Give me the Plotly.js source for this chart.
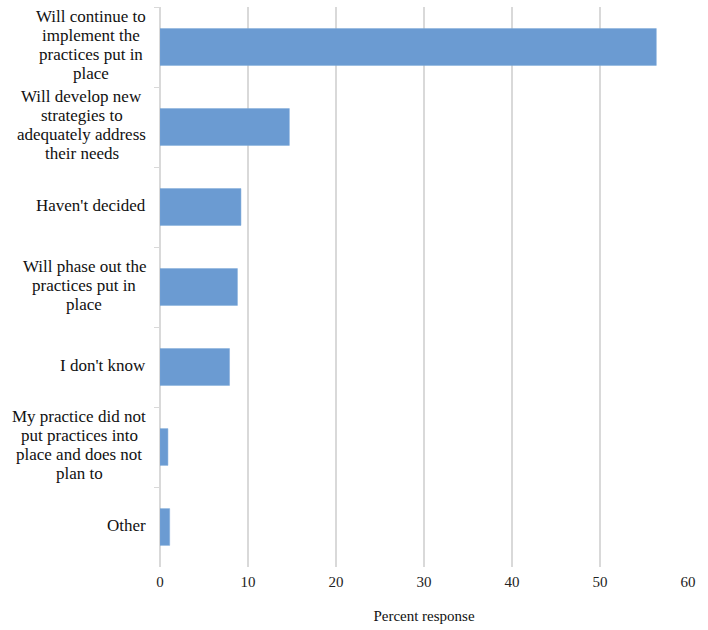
<!DOCTYPE html>
<html>
<head>
<meta charset="utf-8">
<script src="https://cdn.plot.ly/plotly-3.0.1.min.js"></script>
<style>
  body { margin: 0; background: #fff; }
  #chart { width: 708px; height: 630px; }
</style>
</head>
<body>
<div id="chart"></div>
<script>
const categories = [
    "Will continue to<br>implement the<br>practices put in<br>place",
    "Will develop new<br>strategies to<br>adequately address<br>their needs",
    "Haven't decided",
    "Will phase out the<br>practices put in<br>place",
    "I don't know",
    "My practice did not<br>put practices into<br>place and does not<br>plan to",
    "Other"
];

const percent = [56.4, 14.7, 9.2, 8.8, 7.9, 0.9, 1.1];

const xTicks = [0, 10, 20, 30, 40, 50, 60];

function drawChart() {
    const chartDiv = document.getElementById("chart");
    const serif = '"Liberation Serif", "Times New Roman", Times, serif';
    const labelSize = 17;
    const lineStep = 19;
    const rightGap = 14;

    // measure lines so each block is right aligned with its lines centred
    const ctx = document.createElement('canvas').getContext('2d');
    ctx.font = labelSize + 'px ' + serif;

    const labels = [];
    categories.forEach(c => {
        const lines = c.split('<br>');
        const widths = lines.map(l => ctx.measureText(l).width);
        const blockW = Math.max(...widths);
        lines.forEach((ln, i) => {
            labels.push({
                text: ln,
                x: 0,
                xref: 'paper',
                y: c,
                yref: 'y',
                xanchor: 'center',
                yanchor: 'middle',
                xshift: -rightGap - blockW / 2,
                yshift: ((lines.length - 1) / 2 - i) * lineStep + 2,
                showarrow: false,
                borderpad: 0,
                font: { family: serif, size: labelSize, color: '#111' }
            });
        });
    });

    Plotly.newPlot(chartDiv, [{
        type: 'bar',
        orientation: 'h',
        x: percent,
        y: categories,
        marker: { color: '#6b9bd2', line: { color: '#7eaadb', width: 0.5 } },
        hoverinfo: 'x+y'
    }], {
        width: 708,
        height: 630,
        margin: { l: 160, r: 20, t: 7, b: 63 },
        paper_bgcolor: '#fff',
        plot_bgcolor: '#fff',
        bargap: 0.54,
        showlegend: false,
        font: { family: serif, color: '#111' },
        xaxis: {
            range: [0, 60],
            tickvals: xTicks,
            ticktext: xTicks.map(String),
            showgrid: true,
            gridcolor: '#d9d9d9',
            gridwidth: 1.5,
            zeroline: true,
            zerolinecolor: '#d9d9d9',
            zerolinewidth: 1.5,
            showline: false,
            ticks: '',
            ticklabelstandoff: 4,
            tickfont: { family: serif, size: 15, color: '#222' },
            title: { text: 'Percent response', font: { family: serif, size: 15, color: '#111' }, standoff: 21 }
        },
        yaxis: {
            type: 'category',
            autorange: 'reversed',
            showticklabels: false,
            ticks: 'outside',
            tickson: 'boundaries',
            ticklen: 5,
            tickcolor: '#d9d9d9',
            tickwidth: 1,
            showgrid: false,
            showline: false,
            zeroline: false
        },
        annotations: labels
    }, { displayModeBar: false, staticPlot: true });
}

window.addEventListener("load", drawChart);
</script>
</body>
</html>
